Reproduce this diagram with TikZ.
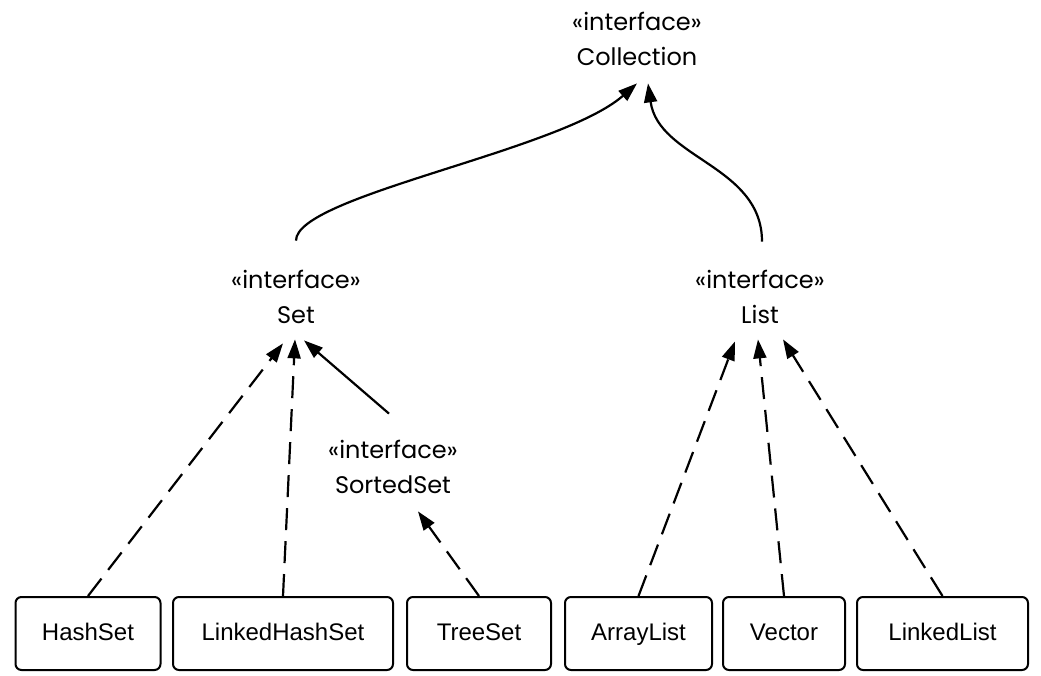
\documentclass[tikz,border=0pt]{standalone}
\usepackage{fontspec}
\setmainfont{Liberation Sans}
\newfontfamily\ifacefont{Poppins}
\usetikzlibrary{arrows.meta}
\tikzset{
  iface/.style={inner sep=0pt, align=center, font=\ifacefont\fontsize{24}{35}\selectfont},
  cls/.style={draw, line width=2pt, rounded corners=6pt, minimum height=73pt,
    inner sep=0pt, text height=17pt, text depth=4pt, font=\fontsize{24}{28}\selectfont},
  impl/.style={->, dash pattern=on 22pt off 11pt},
  ext/.style={->}
}
\begin{document}
\begin{tikzpicture}[x=1pt, y=1pt, line width=2.2pt,
    >={Triangle[length=19pt,width=13pt]}]
      \useasboundingbox (0,0) rectangle (1041,675);
      \path
        (637,636.5) node[iface] (coll){«interface»\\Collection}
        (296,378.5) node[iface] (set){«interface»\\Set}
        (760,378.5) node[iface] (list){«interface»\\List}
        (393,208.5) node[iface] (sorted){«interface»\\SortedSet}
        (88,41.5) node[cls, minimum width=145pt] (hashset){HashSet}
        (283,41.5) node[cls, minimum width=220pt] (linkedhashset){LinkedHashSet}
        (479,41.5) node[cls, minimum width=144pt] (treeset){TreeSet}
        (638.5,41.5) node[cls, minimum width=147pt] (arraylist){ArrayList}
        (784,41.5) node[cls, minimum width=122pt] (vector){Vector}
        (942.5,41.5) node[cls, minimum width=171pt] (linkedlist){LinkedList};
      \begin{scope}[ext]
        \draw ([yshift=28pt]set.north) .. controls +(0,45) and +(-77,-68) .. ([yshift=-17pt]coll.south);
        \draw ([xshift=2pt,yshift=27pt]list.north) to[out=90, in=-82] ([xshift=11pt,yshift=-17pt]coll.south);
        \draw ([xshift=-4pt,yshift=25pt]sorted.north) to ([xshift=8pt,yshift=-16pt]set.south);
      \end{scope}
      \begin{scope}[impl]
        \draw (hashset.north) to ([xshift=-13pt,yshift=-19pt]set.south);
        \draw (linkedhashset.north) to ([xshift=-1pt,yshift=-15pt]set.south);
        \draw (treeset.north) to ([xshift=25pt,yshift=-17pt]sorted.south);
        \draw (arraylist.north) to ([xshift=-25pt,yshift=-17pt]list.south);
        \draw (vector.north) to ([xshift=-2pt,yshift=-15pt]list.south);
        \draw (linkedlist.north) to ([xshift=23pt,yshift=-15pt]list.south);
      \end{scope}
    \end{tikzpicture}
\end{document}
